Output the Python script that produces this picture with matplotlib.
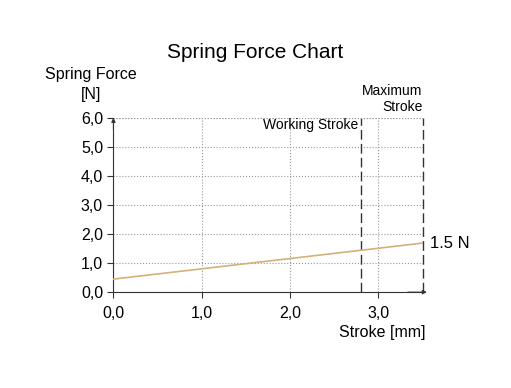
import numpy as np
import matplotlib.pyplot as plt

plt.rcParams['font.family'] = ['Liberation Sans', 'DejaVu Sans']

stroke = [0.0, 3.5]
force = [0.45, 1.69]
working_stroke = 2.8
max_stroke = 3.5
xticks = [0.0, 1.0, 2.0, 3.0]
yticks = [0.0, 1.0, 2.0, 3.0, 4.0, 5.0, 6.0]
end_label = "1.5 N"

fig = plt.figure(figsize=(5.11, 3.88), dpi=100)
ax = fig.add_axes([0.222, 0.247, 0.605, 0.449])

ax.plot(stroke, force, color='#d2b17a', lw=1.2, zorder=3)
ax.axvline(working_stroke, color='#333333', ls=(0, (7, 3)), lw=1.0, clip_on=False)
ax.axvline(max_stroke, color='#333333', ls=(0, (7, 3)), lw=1.0, clip_on=False)

ax.set_xlim(0, 3.5)
ax.set_ylim(0, 6)
ax.set_xticks(xticks)
ax.set_yticks(yticks)
ax.set_xticklabels([f"{v:.1f}".replace('.', ',') for v in xticks], fontsize=11.5)
ax.set_yticklabels([f"{v:.1f}".replace('.', ',') for v in yticks], fontsize=11.5)
ax.tick_params(length=4, width=0.8, color='#333333')
ax.tick_params(axis='x', pad=6)
ax.grid(True, color='#999999', ls=':', lw=0.8)

for s in ['top', 'right']:
    ax.spines[s].set_visible(False)
ax.spines['left'].set_color('#333333')
ax.spines['bottom'].set_color('#333333')
ax.axhline(6, color='#999999', ls=':', lw=0.8)

# axis arrows
ax.annotate('', xy=(0, 6.1), xytext=(0, 5.5), xycoords='data',
            arrowprops=dict(arrowstyle='-|>', color='#333333', lw=0.8, mutation_scale=6),
            annotation_clip=False)
ax.annotate('', xy=(3.58, 0), xytext=(3.3, 0), xycoords='data',
            arrowprops=dict(arrowstyle='-|>', color='#333333', lw=0.8, mutation_scale=6),
            annotation_clip=False)

ax.text(working_stroke - 0.03, 5.75, "Working Stroke", ha='right', va='center', fontsize=10)
ax.text(max_stroke, 6.15, "Maximum\nStroke", ha='right', va='bottom', fontsize=10, linespacing=1.15)
ax.text(max_stroke + 0.08, force[-1], end_label, ha='left', va='center', fontsize=12)

fig.text(0.5, 0.865, "Spring Force Chart", ha='center', va='center', fontsize=15)
fig.text(0.178, 0.807, "Spring Force", ha='center', va='center', fontsize=11.5)
fig.text(0.178, 0.757, "[N]", ha='center', va='center', fontsize=11.5)
fig.text(0.748, 0.142, "Stroke [mm]", ha='center', va='center', fontsize=11.5)

fig.savefig("out.png", dpi=100)
